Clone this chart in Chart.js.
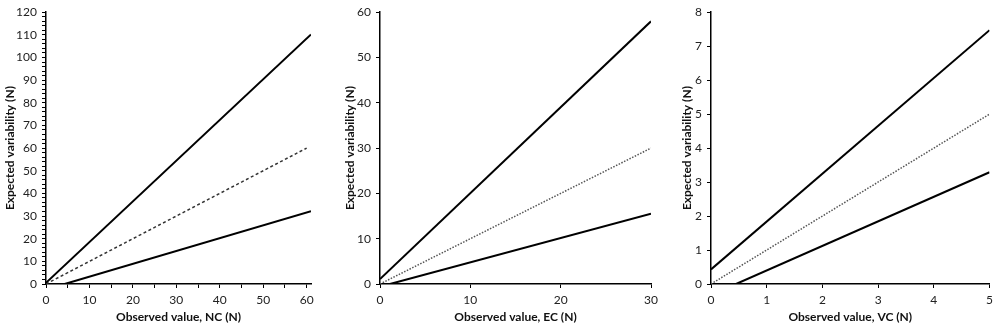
<!DOCTYPE html>
<html>
<head>
<meta charset="utf-8">
<script src="https://cdn.jsdelivr.net/npm/chart.js@4.4.1/dist/chart.umd.min.js"></script>
<style>
  html, body { margin: 0; padding: 0; background: #fff; }
  #wrap { position: relative; width: 998px; height: 327px; overflow: hidden; }
  canvas { position: absolute; top: 0; }
</style>
</head>
<body>
<div id="wrap">
  <canvas id="c1" width="330" height="327" style="left:0px"></canvas>
  <canvas id="c2" width="330" height="327" style="left:340px"></canvas>
  <canvas id="c3" width="321" height="327" style="left:677px"></canvas>
</div>
<script>
// ---- Data ----
const yTitle = 'Expected variability (N)';
const xTitles = ['Observed value, NC (N)', 'Observed value, EC (N)', 'Observed value, VC (N)'];

// Panel 1: NC
const ncUpperX = [0, 61];
const ncUpperY = [0.5, 110.2];
const ncLowerX = [4.3, 61];
const ncLowerY = [0, 32.1];
const ncIdentX = [0, 60];
const ncIdentY = [0, 60];
const ncXTicks = [0, 5, 10, 15, 20, 25, 30, 35, 40, 45, 50, 55, 60];
const ncYTicks = [0,2,4,6,8,10,12,14,16,18,20,22,24,26,28,30,32,34,36,38,40,42,44,46,48,50,52,54,56,58,60,62,64,66,68,70,72,74,76,78,80,82,84,86,88,90,92,94,96,98,100,102,104,106,108,110,112,114,116,118,120];

// Panel 2: EC
const ecUpperX = [0, 30];
const ecUpperY = [1.1, 58];
const ecLowerX = [1.1, 30];
const ecLowerY = [0, 15.5];
const ecIdentX = [0, 30];
const ecIdentY = [0, 30];
const ecXTicks = [0, 10, 20, 30];
const ecYTicks = [0, 10, 20, 30, 40, 50, 60];

// Panel 3: VC
const vcUpperX = [0, 5];
const vcUpperY = [0.43, 7.47];
const vcLowerX = [0.45, 5];
const vcLowerY = [0, 3.29];
const vcIdentX = [0, 5];
const vcIdentY = [0, 5];
const vcXTicks = [0, 1, 2, 3, 4, 5];
const vcYTicks = [0, 1, 2, 3, 4, 5, 6, 7, 8];

// ---- helpers ----
function pts(xs, ys) { return xs.map((x, i) => ({ x: x, y: ys[i] })); }

const FONT = 'Lato, "Open Sans", "Liberation Sans", sans-serif';

function makeChart(id, cfg) {
  const solid = { showLine: true, pointRadius: 0, borderColor: '#000', borderWidth: 2, fill: false };
  return new Chart(document.getElementById(id), {
    type: 'scatter',
    data: {
      datasets: [
        Object.assign({ data: pts(cfg.upX, cfg.upY) }, solid),
        Object.assign({ data: pts(cfg.loX, cfg.loY) }, solid),
        { data: pts(cfg.idX, cfg.idY), showLine: true, pointRadius: 0, borderColor: cfg.dotColor,
          borderWidth: 1.5, borderDash: cfg.dash, fill: false }
      ]
    },
    options: {
      responsive: false,
      animation: false,
      events: [],
      layout: { padding: { left: 0, right: cfg.padRight, top: 7, bottom: 3 } },
      plugins: { legend: { display: false }, tooltip: { enabled: false } },
      scales: {
        x: {
          type: 'linear', min: 0, max: cfg.xMax,
          afterBuildTicks: s => { s.ticks = cfg.xTicks.map(v => ({ value: v })); },
          afterFit: s => { s.height = 40; },
          border: { color: '#000', width: 1.5 },
          grid: { drawOnChartArea: false, drawTicks: true, tickLength: 4, color: '#000', tickColor: '#000' },
          ticks: {
            autoSkip: false, maxRotation: 0, padding: 5, color: '#222',
            font: { family: FONT, size: 12 },
            callback: v => (v % cfg.xLabelStep === 0 ? String(v) : '')
          },
          title: {
            display: true, text: cfg.xTitle, color: '#111', padding: 0,
            font: { family: FONT, size: 12, weight: 'bold' }
          }
        },
        y: {
          type: 'linear', min: 0, max: cfg.yMax,
          afterBuildTicks: s => { s.ticks = cfg.yTicks.map(v => ({ value: v })); },
          afterFit: s => { s.width = cfg.yWidth; },
          border: { color: '#000', width: 1.5 },
          grid: { drawOnChartArea: false, drawTicks: true, tickLength: 4, color: '#000', tickColor: '#000' },
          ticks: {
            autoSkip: false, padding: 5, color: '#222',
            font: { family: FONT, size: 12 },
            callback: v => (v % cfg.yLabelStep === 0 ? String(v) : '')
          },
          title: {
            display: true, text: yTitle, color: '#111', padding: { top: 3, bottom: 0 },
            font: { family: FONT, size: 12, weight: 'bold' }
          }
        }
      }
    }
  });
}

makeChart('c1', {
  upX: ncUpperX, upY: ncUpperY, loX: ncLowerX, loY: ncLowerY, idX: ncIdentX, idY: ncIdentY,
  dotColor: '#333', dash: [3, 2.5], xMax: 61, yMax: 120, xTicks: ncXTicks, yTicks: ncYTicks,
  xLabelStep: 10, yLabelStep: 10, xTitle: xTitles[0], yWidth: 46, padRight: 19
});
makeChart('c2', {
  upX: ecUpperX, upY: ecUpperY, loX: ecLowerX, loY: ecLowerY, idX: ecIdentX, idY: ecIdentY,
  dotColor: '#555', dash: [1.5, 1.5], xMax: 30, yMax: 60, xTicks: ecXTicks, yTicks: ecYTicks,
  xLabelStep: 10, yLabelStep: 10, xTitle: xTitles[1], yWidth: 40, padRight: 19
});
makeChart('c3', {
  upX: vcUpperX, upY: vcUpperY, loX: vcLowerX, loY: vcLowerY, idX: vcIdentX, idY: vcIdentY,
  dotColor: '#555', dash: [1.5, 1.5], xMax: 5, yMax: 8, xTicks: vcXTicks, yTicks: vcYTicks,
  xLabelStep: 1, yLabelStep: 1, xTitle: xTitles[2], yWidth: 34, padRight: 7
});
</script>
</body>
</html>
